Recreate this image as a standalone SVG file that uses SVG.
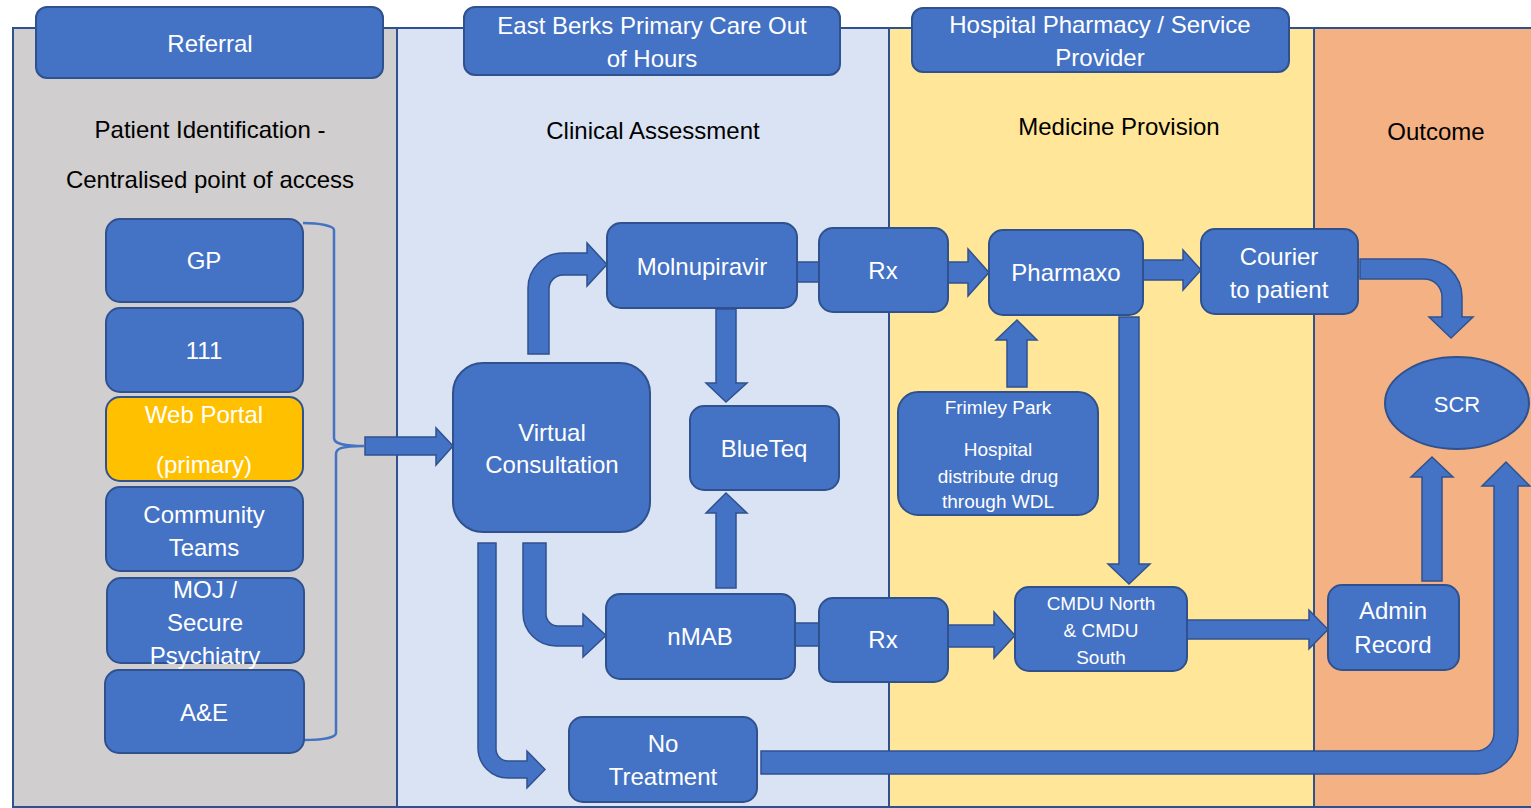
<svg xmlns="http://www.w3.org/2000/svg" width="1531" height="808" viewBox="0 0 1531 808">
<style>
text{font-family:"Liberation Sans",Arial,sans-serif;text-anchor:middle}
.w{fill:#fff;font-size:24px}
.s{fill:#fff;font-size:19px}
.h{fill:#000;font-size:24px}
.n{fill:#4472C4;stroke:#2F528F;stroke-width:2}
.a{fill:#4472C4;stroke:#2F528F;stroke-width:1.5}
.lane{stroke:#2F528F;stroke-width:2}
</style>
<rect width="1531" height="808" fill="#fff"/>
<g id="lanes">
<rect class="lane" x="13" y="28" width="384" height="779" fill="#D0CECE"/>
<rect class="lane" x="397" y="28" width="492" height="779" fill="#DAE3F3"/>
<rect class="lane" x="889" y="28" width="425" height="779" fill="#FFE699"/>
<rect class="lane" x="1314" y="28" width="230" height="779" fill="#F4B183"/>
</g>
<g id="headers">
<g id="h-referral"><rect class="n" x="36" y="7" width="347" height="71" rx="11"/><text class="w" x="210" y="52">Referral</text></g>
<g id="h-eastberks"><rect class="n" x="464" y="7" width="376" height="68" rx="11"/><text class="w" x="652" y="34">East Berks Primary Care Out</text><text class="w" x="652" y="67">of Hours</text></g>
<g id="h-hospital"><rect class="n" x="912" y="8" width="377" height="64" rx="11"/><text class="w" x="1100" y="33">Hospital Pharmacy / Service</text><text class="w" x="1100" y="66">Provider</text></g>
<text class="h" x="210" y="138">Patient Identification -</text>
<text class="h" x="210" y="188">Centralised point of access</text>
<text class="h" x="653" y="139">Clinical Assessment</text>
<text class="h" x="1119" y="135">Medicine Provision</text>
<text class="h" x="1436" y="140">Outcome</text>
</g>
<g id="connectors">
<path d="M303,223 C320,223 334,226 334,230 L334,438 C334,443 340,446 364,446 C340,446 336,449 336,454 L336,733 C336,738 320,740 304,740" fill="none" stroke="#4472C4" stroke-width="2.5"/>
<path class="a" d="M365,437 L436,437 L436,428 L453,446 L436,465 L436,455 L365,455 Z"/>
<path class="a" d="M528,354 L528,288 A35,35 0 0 1 563,253 L587,253 L587,243 L607,264.5 L587,286 L587,275 L563,275 A14,14 0 0 0 549,289 L549,354 Z"/>
<path class="a" d="M523,543 L523,613 A33,33 0 0 0 556,646 L583,646 L583,657 L606,635.5 L583,614 L583,626 L558,626 A12,12 0 0 1 546,614 L546,543 Z"/>
<path class="a" d="M478,543 L478,748 A30,30 0 0 0 508,778 L527,778 L527,788 L545,769.5 L527,751 L527,761 L508,761 A12,12 0 0 1 496,749 L496,543 Z"/>
<rect class="a" x="797" y="262" width="22" height="20"/>
<rect class="a" x="794" y="623" width="25" height="23"/>
<path class="a" d="M716,309 L736,309 L736,383 L747,383 L726,402 L706,383 L716,383 Z"/>
<path class="a" d="M716,588 L716,513 L706,513 L726,493 L747,513 L736,513 L736,588 Z"/>
<path class="a" d="M948,262 L968,262 L968,249 L989,272.5 L968,296 L968,283 L948,283 Z"/>
<path class="a" d="M1143,260 L1183,260 L1183,250 L1201,270 L1183,290 L1183,280 L1143,280 Z"/>
<path class="a" d="M1007,387 L1007,340 L996,340 L1017,320 L1037,340 L1027,340 L1027,387 Z"/>
<path class="a" d="M1119,317 L1139,317 L1139,564 L1150,564 L1129,584 L1108,564 L1119,564 Z"/>
<path class="a" d="M948,625 L994,625 L994,612 L1015,635.5 L994,658 L994,647 L948,647 Z"/>
<path class="a" d="M1187,620 L1309,620 L1309,610 L1328,629.5 L1309,649 L1309,639 L1187,639 Z"/>
<path class="a" d="M1360,259 L1424,259 A38,38 0 0 1 1462,297 L1462,317 L1473,317 L1451,338 L1429,317 L1442,317 L1442,297 A18,18 0 0 0 1424,279 L1360,279 Z"/>
<path class="a" d="M1422,581 L1422,477 L1411,477 L1432,457 L1453,477 L1442,477 L1442,581 Z"/>
<path class="a" d="M761,751 L1476,751 A18,18 0 0 0 1494,733 L1494,486 L1482,486 L1506,462 L1530,486 L1518,486 L1518,734 A40,40 0 0 1 1478,774 L761,774 Z"/>
</g>
<g id="n-gp"><rect class="n" x="106" y="219" width="197" height="83" rx="14"/><text class="w" x="204" y="269">GP</text></g>
<g id="n-111"><rect class="n" x="106" y="308" width="197" height="84" rx="14"/><text class="w" x="204" y="359">111</text></g>
<g id="n-web"><rect x="106" y="397" width="197" height="84" rx="14" fill="#FFC000" stroke="#2F528F" stroke-width="2"/><text class="w" x="204" y="423">Web Portal</text><text class="w" x="204" y="473">(primary)</text></g>
<g id="n-community"><rect class="n" x="106" y="487" width="197" height="84" rx="14"/><text class="w" x="204" y="523">Community</text><text class="w" x="204" y="556">Teams</text></g>
<g id="n-moj"><rect class="n" x="107" y="578" width="197" height="85" rx="14"/><text class="w" x="205" y="598">MOJ /</text><text class="w" x="205" y="631">Secure</text><text class="w" x="205" y="664">Psychiatry</text></g>
<g id="n-ae"><rect class="n" x="105" y="670" width="199" height="83" rx="14"/><text class="w" x="204" y="721">A&amp;E</text></g>
<g id="n-vc"><rect class="n" x="453" y="363" width="197" height="169" rx="30"/><text class="w" x="552" y="441">Virtual</text><text class="w" x="552" y="473">Consultation</text></g>
<g id="n-moln"><rect class="n" x="607" y="223" width="190" height="85" rx="14"/><text class="w" x="702" y="275">Molnupiravir</text></g>
<g id="n-rx1"><rect class="n" x="819" y="228" width="129" height="84" rx="14"/><text class="w" x="883" y="279">Rx</text></g>
<g id="n-pharmaxo"><rect class="n" x="989" y="230" width="154" height="85" rx="14"/><text class="w" x="1066" y="281">Pharmaxo</text></g>
<g id="n-courier"><rect class="n" x="1201" y="229" width="157" height="85" rx="14"/><text class="w" x="1279" y="265">Courier</text><text class="w" x="1279" y="298">to patient</text></g>
<g id="n-blueteq"><rect class="n" x="690" y="406" width="149" height="84" rx="14"/><text class="w" x="764" y="457">BlueTeq</text></g>
<g id="n-frimley"><rect class="n" x="898" y="392" width="200" height="123" rx="20"/><text class="s" x="998" y="414">Frimley Park</text><text class="s" x="998" y="456">Hospital</text><text class="s" x="998" y="483">distribute drug</text><text class="s" x="998" y="508">through WDL</text></g>
<g id="n-scr"><ellipse class="n" cx="1457" cy="403" rx="72" ry="46"/><text class="w" x="1457" y="412" style="font-size:22px">SCR</text></g>
<g id="n-nmab"><rect class="n" x="606" y="594" width="189" height="85" rx="14"/><text class="w" x="700" y="645">nMAB</text></g>
<g id="n-rx2"><rect class="n" x="819" y="598" width="129" height="84" rx="14"/><text class="w" x="883" y="648">Rx</text></g>
<g id="n-cmdu"><rect class="n" x="1015" y="587" width="172" height="84" rx="14"/><text class="s" x="1101" y="610">CMDU North</text><text class="s" x="1101" y="637">&amp; CMDU</text><text class="s" x="1101" y="664">South</text></g>
<g id="n-admin"><rect class="n" x="1328" y="585" width="131" height="85" rx="14"/><text class="w" x="1393" y="619">Admin</text><text class="w" x="1393" y="653">Record</text></g>
<g id="n-notreat"><rect class="n" x="569" y="717" width="188" height="85" rx="14"/><text class="w" x="663" y="752">No</text><text class="w" x="663" y="785">Treatment</text></g>
</svg>
